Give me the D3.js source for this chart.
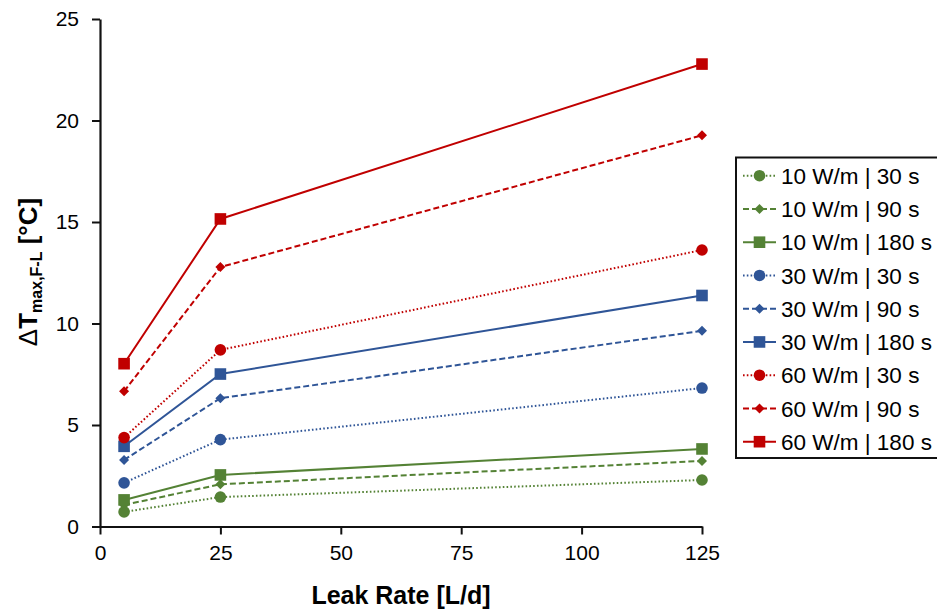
<!DOCTYPE html>
<html>
<head>
<meta charset="utf-8">
<script src="https://cdn.jsdelivr.net/npm/d3@7"></script>
<style>
  body { margin: 0; background: #fff; }
  svg { display: block; font-family: "Liberation Sans", Arial, sans-serif; }
</style>
</head>
<body>
<script>
// data
var leakRates = [5, 25, 125];
var xTicks = [0, 25, 50, 75, 100, 125];
var yTicks = [0, 5, 10, 15, 20, 25];

var seriesNames = [
    "10 W/m | 30 s", "10 W/m | 90 s", "10 W/m | 180 s",
    "30 W/m | 30 s", "30 W/m | 90 s", "30 W/m | 180 s",
    "60 W/m | 30 s", "60 W/m | 90 s", "60 W/m | 180 s"
];
var w10_30 = [0.72, 1.45, 2.29];
var w10_90 = [1.06, 2.08, 3.23];
var w10_180 = [1.31, 2.54, 3.82];
var w30_30 = [2.15, 4.28, 6.82];
var w30_90 = [3.28, 6.32, 9.64];
var w30_180 = [3.95, 7.51, 11.38];
var w60_30 = [4.38, 8.70, 13.62];
var w60_90 = [6.66, 12.78, 19.27];
var w60_180 = [8.02, 15.15, 22.78];
var seriesValues = [w10_30, w10_90, w10_180, w30_30, w30_90, w30_180, w60_30, w60_90, w60_180];

var width = 937, height = 611;

var svg = d3.select("body").append("svg")
    .attr("width", width)
    .attr("height", height);

var x = d3.scaleLinear().domain([0, 125]).range([100, 702]);
var y = d3.scaleLinear().domain([0, 25]).range([526.5, 19]);

// colour per heat rate, line style + marker per duration
var colors = ["#548235", "#2F5597", "#C00000"];
var dashes = ["1.6 2.2", "6 3", null];
var shapes = ["circle", "diamond", "square"];

function styleOf(i) {
    return {
        color: colors[Math.floor(i / 3)],
        dash: dashes[i % 3],
        shape: shapes[i % 3]
    };
}

function drawMarker(g, shape, cx, cy, color) {
    if (shape == "circle") {
        g.append("circle").attr("cx", cx).attr("cy", cy).attr("r", 5.8).attr("fill", color);
    } else if (shape == "square") {
        g.append("rect").attr("x", cx - 5.8).attr("y", cy - 5.8)
            .attr("width", 11.6).attr("height", 11.6).attr("fill", color);
    } else {
        g.append("path")
            .attr("d", "M" + cx + "," + (cy - 5) + "L" + (cx + 5) + "," + cy +
                "L" + cx + "," + (cy + 5) + "L" + (cx - 5) + "," + cy + "Z")
            .attr("fill", color);
    }
}

// axes
var yAxis = svg.append("g")
    .attr("transform", "translate(100,0)")
    .call(d3.axisLeft(y).tickValues(yTicks).tickSize(8).tickSizeOuter(0).tickPadding(13));

var xAxis = svg.append("g")
    .attr("transform", "translate(0,526.5)")
    .call(d3.axisBottom(x).tickValues(xTicks).tickSize(8).tickSizeOuter(0).tickPadding(11));

[xAxis, yAxis].forEach(function (ax) {
    ax.select(".domain").attr("stroke", "#111").attr("stroke-width", 2.2);
    ax.selectAll(".tick line").attr("stroke", "#111").attr("stroke-width", 2);
    ax.selectAll(".tick text").attr("font-size", 21).attr("fill", "#000")
        .attr("font-family", "Liberation Sans, Arial, sans-serif");
});

// series lines and markers
var line = d3.line()
    .x(function (d, i) { return x(leakRates[i]); })
    .y(function (d) { return y(d); });

seriesValues.forEach(function (vals, i) {
    var st = styleOf(i);
    var g = svg.append("g").attr("class", "series");
    g.append("path")
        .attr("d", line(vals))
        .attr("fill", "none")
        .attr("stroke", st.color)
        .attr("stroke-width", 2)
        .attr("stroke-dasharray", st.dash);
    vals.forEach(function (v, j) {
        drawMarker(g, st.shape, x(leakRates[j]), y(v), st.color);
    });
});

// axis titles
svg.append("text")
    .attr("x", 401)
    .attr("y", 604)
    .attr("text-anchor", "middle")
    .attr("font-size", 25)
    .attr("font-weight", "bold")
    .text("Leak Rate [L/d]");

var yt = svg.append("text")
    .attr("transform", "translate(37,272) rotate(-90)")
    .attr("text-anchor", "middle")
    .attr("font-size", 26)
    .attr("font-weight", "bold");
yt.append("tspan").attr("font-weight", "normal").text("\u0394");
yt.append("tspan").text("T");
yt.append("tspan").attr("font-size", 16).attr("dy", 5).text("max,F-L");
yt.append("tspan").attr("dy", -5).text(" [\u00B0C]");

// legend
var legend = svg.append("g");
legend.append("rect")
    .attr("x", 736).attr("y", 157.5)
    .attr("width", 215).attr("height", 300.5)
    .attr("fill", "#fff")
    .attr("stroke", "#111")
    .attr("stroke-width", 2);

seriesNames.forEach(function (name, i) {
    var st = styleOf(i);
    var ly = 175.7 + i * 33.25;
    legend.append("line")
        .attr("x1", 743).attr("x2", 776)
        .attr("y1", ly).attr("y2", ly)
        .attr("stroke", st.color)
        .attr("stroke-width", 2)
        .attr("stroke-dasharray", st.dash);
    drawMarker(legend, st.shape, 759.5, ly, st.color);
    legend.append("text")
        .attr("x", 781)
        .attr("y", ly)
        .attr("dy", "0.36em")
        .attr("font-size", 22.5)
        .text(name);
});
</script>
</body>
</html>
